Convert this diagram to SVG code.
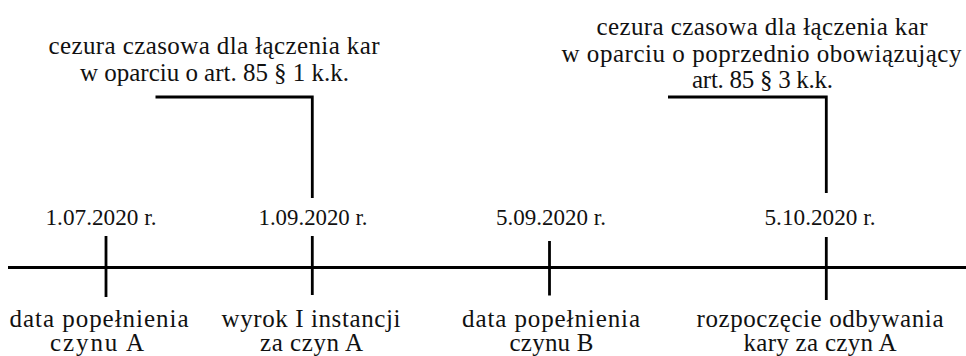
<svg xmlns="http://www.w3.org/2000/svg" width="966" height="356" viewBox="0 0 966 356">
  <style>
    text { font-family: "Liberation Serif", "DejaVu Serif", serif; font-size: 25px; fill: #111; text-anchor: middle; }
    text.date { font-size: 23.5px; }
    .ln { stroke: #000; stroke-width: 2.8; fill: none; stroke-linejoin: miter; stroke-linecap: butt; }
  </style>
  <rect width="966" height="356" fill="#fff"/>
  <g id="connectors">
    <line class="ln" x1="8" y1="267.5" x2="966" y2="267.5"/>
    <polyline class="ln" points="155.5,97 312.3,97 312.3,198"/>
    <polyline class="ln" points="668,97 826.3,97 826.3,193"/>
  </g>
  <g id="note-art85-1">
    <text x="214" y="53.5" textLength="331" lengthAdjust="spacing">cezura czasowa dla łączenia kar</text>
    <text x="214.5" y="80.5" textLength="269" lengthAdjust="spacing">w oparciu o art. 85 § 1 k.k.</text>
  </g>
  <g id="note-art85-3">
    <text x="762" y="35" textLength="331" lengthAdjust="spacing">cezura czasowa dla łączenia kar</text>
    <text x="761.5" y="61.5" textLength="400" lengthAdjust="spacing">w oparciu o poprzednio obowiązujący</text>
    <text x="762.5" y="88" textLength="141" lengthAdjust="spacing">art. 85 § 3 k.k.</text>
  </g>
  <g id="event-a-committed">
    <line class="ln" x1="106" y1="236" x2="106" y2="297"/>
    <text class="date" x="101" y="225" textLength="111" lengthAdjust="spacingAndGlyphs">1.07.2020 r.</text>
    <text x="99" y="326.5" textLength="179" lengthAdjust="spacing">data popełnienia</text>
    <text x="97" y="351" textLength="94" lengthAdjust="spacing">czynu A</text>
  </g>
  <g id="event-judgment">
    <line class="ln" x1="312.3" y1="236" x2="312.3" y2="295"/>
    <text class="date" x="313" y="225" textLength="109" lengthAdjust="spacingAndGlyphs">1.09.2020 r.</text>
    <text x="311" y="326.5" textLength="179" lengthAdjust="spacing">wyrok I instancji</text>
    <text x="311.5" y="351" textLength="103" lengthAdjust="spacing">za czyn A</text>
  </g>
  <g id="event-b-committed">
    <line class="ln" x1="549.5" y1="241" x2="549.5" y2="295.5"/>
    <text class="date" x="551" y="225" textLength="110" lengthAdjust="spacingAndGlyphs">5.09.2020 r.</text>
    <text x="551" y="326.5" textLength="178" lengthAdjust="spacing">data popełnienia</text>
    <text x="551.5" y="351" textLength="84" lengthAdjust="spacing">czynu B</text>
  </g>
  <g id="event-sentence-start">
    <line class="ln" x1="826.3" y1="237" x2="826.3" y2="300"/>
    <text class="date" x="820" y="225" textLength="111" lengthAdjust="spacingAndGlyphs">5.10.2020 r.</text>
    <text x="820" y="326.5" textLength="247" lengthAdjust="spacing">rozpoczęcie odbywania</text>
    <text x="820" y="351" textLength="153" lengthAdjust="spacing">kary za czyn A</text>
  </g>
</svg>
